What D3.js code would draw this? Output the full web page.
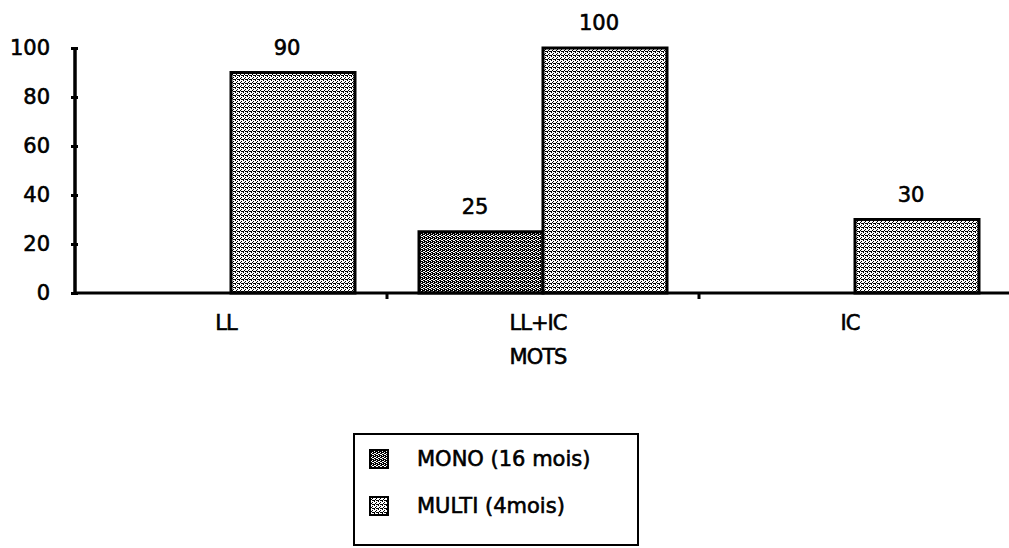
<!DOCTYPE html>
<html>
<head>
<meta charset="utf-8">
<script src="https://cdn.jsdelivr.net/npm/d3@7"></script>
<style>
  body { margin: 0; background: #fff; }
  svg { display: block; font-family: "DejaVu Sans", sans-serif; }
  svg text { fill: #000; stroke: #000; stroke-width: 0.6px; }
</style>
</head>
<body>
<svg id="chart"></svg>
<script>
const width = 1009;
const height = 548;

const categories = ['LL', 'LL+IC', 'IC'];
const seriesNames = ['MONO (16 mois)', 'MULTI (4mois)'];
const monoValues = [0, 25, 0];
const multiValues = [90, 100, 30];
const yTicks = [0, 20, 40, 60, 80, 100];
const xTitle = 'MOTS';

const plotLeft = 75, plotRight = 1011, plotTop = 48, plotBottom = 293;

const svg = d3.select('#chart')
  .attr('width', width)
  .attr('height', height);

// stipple patterns, like the old bitmap fills
const defs = svg.append('defs');
function stipple(id, dots) {
  const p = defs.append('pattern')
    .attr('id', id)
    .attr('patternUnits', 'userSpaceOnUse')
    .attr('width', 4).attr('height', 4);
  p.append('rect').attr('width', 4).attr('height', 4).attr('fill', '#fff');
  dots.forEach(([dx, dy]) => p.append('rect')
    .attr('x', dx).attr('y', dy).attr('width', 1).attr('height', 1).attr('fill', '#000'));
}
stipple('pat-mono', [[0,0],[1,0],[2,1],[3,1],[0,2],[1,2],[2,3],[3,3],[1,1],[3,2]]);
stipple('pat-multi', [[0,0],[2,1],[1,2],[3,3],[2,3],[0,3]]);
const fills = ['url(#pat-mono)', 'url(#pat-multi)'];

const x = d3.scaleBand().domain(categories).range([plotLeft, plotRight]).padding(0);
const xInner = d3.scaleBand().domain(seriesNames)
  .range([32, x.bandwidth() - 32]).padding(0);
const y = d3.scaleLinear().domain([0, 100]).range([plotBottom, plotTop]);

const data = categories.map((c, i) => ({
  cat: c,
  values: [
    { key: seriesNames[0], v: monoValues[i] },
    { key: seriesNames[1], v: multiValues[i] }
  ]
}));

// bars
const groups = svg.append('g').selectAll('g')
  .data(data)
  .enter().append('g')
  .attr('transform', d => `translate(${x(d.cat)},0)`);

groups.selectAll('rect')
  .data(d => d.values.filter(e => e.v > 0))
  .enter().append('rect')
  .attr('x', d => xInner(d.key))
  .attr('y', d => y(d.v))
  .attr('width', xInner.bandwidth())
  .attr('height', d => y(0) - y(d.v))
  .attr('fill', d => fills[seriesNames.indexOf(d.key)])
  .attr('stroke', '#000')
  .attr('stroke-width', 3);

groups.selectAll('text')
  .data(d => d.values.filter(e => e.v > 0))
  .enter().append('text')
  .attr('x', d => xInner(d.key) + xInner.bandwidth() / 2 - 6)
  .attr('y', d => y(d.v) - 25)
  .attr('dy', '0.35em')
  .attr('text-anchor', 'middle')
  .attr('font-size', 21)
  .text(d => d.v);

// y axis
const yAxis = svg.append('g')
  .attr('transform', `translate(${plotLeft},0)`)
  .call(d3.axisLeft(y).tickValues(yTicks).tickSize(4).tickPadding(21).tickSizeOuter(0));
yAxis.select('.domain').remove();
yAxis.append('line')
  .attr('x1', 0).attr('x2', 0)
  .attr('y1', y(100) - 1).attr('y2', y(0) + 2)
  .attr('stroke', '#000').attr('stroke-width', 3.5);
yAxis.selectAll('.tick line').attr('stroke', '#000').attr('stroke-width', 3).attr('x2', 3).attr('x1', -4);
yAxis.selectAll('.tick text').attr('font-size', 21).attr('font-family', 'DejaVu Sans');

// x axis: ticks at category boundaries
svg.append('line')
  .attr('x1', plotLeft).attr('x2', width)
  .attr('y1', y(0)).attr('y2', y(0))
  .attr('stroke', '#000').attr('stroke-width', 3);
svg.append('g').selectAll('line')
  .data(categories.slice(1))
  .enter().append('line')
  .attr('x1', d => x(d)).attr('x2', d => x(d))
  .attr('y1', y(0)).attr('y2', y(0) + 6)
  .attr('stroke', '#000').attr('stroke-width', 3);
svg.append('g').selectAll('text')
  .data(categories)
  .enter().append('text')
  .attr('x', d => x(d) + x.bandwidth() / 2 - 5)
  .attr('y', 323)
  .attr('dy', '0.35em')
  .attr('text-anchor', 'middle')
  .attr('font-size', 21)
  .attr('letter-spacing', -1)
  .text(d => d);

svg.append('text')
  .attr('x', x('LL+IC') + x.bandwidth() / 2 - 5)
  .attr('y', 357)
  .attr('dy', '0.35em')
  .attr('text-anchor', 'middle')
  .attr('font-size', 21)
  .attr('letter-spacing', -1)
  .text(xTitle);

// legend
const legend = svg.append('g');
legend.append('rect')
  .attr('x', 354).attr('y', 434)
  .attr('width', 284).attr('height', 111)
  .attr('fill', '#fff').attr('stroke', '#000').attr('stroke-width', 2);
const items = legend.selectAll('g.item')
  .data(seriesNames)
  .enter().append('g')
  .attr('transform', (d, i) => `translate(370,${450 + i * 47})`);
items.append('rect')
  .attr('width', 18).attr('height', 18)
  .attr('fill', (d, i) => fills[i])
  .attr('stroke', '#000').attr('stroke-width', 2);
items.append('text')
  .attr('x', 47).attr('y', 9)
  .attr('dy', '0.35em')
  .attr('font-size', 21)
  .text(d => d);
</script>
</body>
</html>
